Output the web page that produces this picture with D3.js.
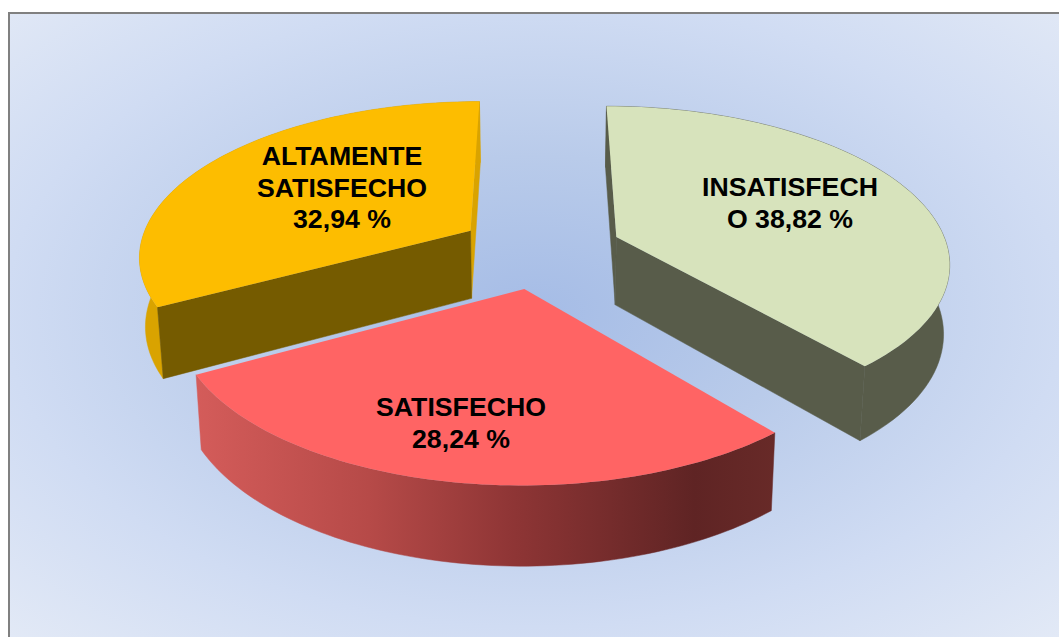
<!DOCTYPE html>
<html><head><meta charset="utf-8">
<script src="https://cdn.jsdelivr.net/npm/d3@7"></script>
<style>html,body{margin:0;padding:0;background:#fff}svg{display:block}</style></head>
<body><svg id="c" width="1059" height="637"></svg>
<script>
const categories = ["INSATISFECHO", "SATISFECHO", "ALTAMENTE SATISFECHO"];
const values = [38.82, 28.24, 32.94];
const labelLines = [["INSATISFECH", "O 38,82 %"], ["SATISFECHO", "28,24 %"], ["ALTAMENTE", "SATISFECHO", "32,94 %"]];
const topColors = ["#d7e3bc", "#ff6464", "#fdbd00"];
const sideColors = ["#585c4a", "url(#redWall)", "#d9a300"];
const cutColors = ["#585c4a", "#585c4a", "#755b00"];
const labelAnchors = [[790, 187], [461, 407], [342, 156]];
const drawOrder = [2, 0, 1];

// view model: unit pie plane seen through a perspective camera
const view = {cx: 540, cy: 250, sx: 332, sy: 154, persp: 0.15, explode: 0.248, depth: 68.5, shrink: 0.985};

const svg = d3.select("#c");
const defs = svg.append("defs");
const bg = defs.append("radialGradient").attr("id", "bg").attr("cx", .5).attr("cy", .48).attr("r", .72);
[[0, "#a5bce6"], [.35, "#b9cbea"], [.7, "#d0dcf3"], [1, "#e2e9f6"]].forEach(s => bg.append("stop").attr("offset", s[0]).attr("stop-color", s[1]));
const rw = defs.append("linearGradient").attr("id", "redWall").attr("gradientUnits", "userSpaceOnUse").attr("x1", 195).attr("x2", 776).attr("y1", 0).attr("y2", 0);
[[0, "#d45c5a"], [.3, "#b64a48"], [.55, "#8e3535"], [.86, "#5f2424"], [1, "#682a28"]].forEach(s => rw.append("stop").attr("offset", s[0]).attr("stop-color", s[1]));

svg.append("rect").attr("x", 9).attr("y", 14).attr("width", 1050).attr("height", 623).attr("fill", "url(#bg)");
svg.append("rect").attr("x", 8).attr("y", 12).attr("width", 1051).attr("height", 2).attr("fill", "#808080");
svg.append("rect").attr("x", 8).attr("y", 12).attr("width", 2).attr("height", 625).attr("fill", "#808080");

const arcs = d3.pie().sort(null).value(d => d)(values);
const line = d3.line().x(d => d[0]).y(d => d[1]);

function project(a, r, off, level) {
  const X = r * Math.sin(a) + view.explode * Math.sin(off);
  const Y = r * Math.cos(a) + view.explode * Math.cos(off);
  const w = 1 / (1 + view.persp * Y);
  const q = level ? view.shrink : 1;
  return [view.cx + view.sx * X * w * q, view.cy - view.sy * Y * w * q + (level ? view.depth * w : 0)];
}
const N = 80;
function rim(d, level) {
  const mid = (d.startAngle + d.endAngle) / 2;
  return d3.range(N + 1).map(i => project(d.startAngle + (d.endAngle - d.startAngle) * i / N, 1, mid, level));
}

drawOrder.forEach(i => {
  const d = arcs[i], mid = (d.startAngle + d.endAngle) / 2;
  const g = svg.append("g").attr("class", "slice");
  const apexT = project(0, 0, mid, 0), apexB = project(0, 0, mid, 1);
  const topRim = rim(d, 0), botRim = rim(d, 1);
  const cut = a => [apexT, project(a, 1, mid, 0), project(a, 1, mid, 1), apexB];
  const startCut = cut(d.startAngle), endCut = cut(d.endAngle);
  const wall = line(topRim.concat(botRim.slice().reverse())) + "Z";
  const face = (pathD, color) => g.append("path").attr("d", pathD).attr("fill", color).attr("stroke", color).attr("stroke-width", 0.5);
  if (i === 2) {
    face(line(endCut) + "Z", sideColors[i]);
    face(wall, sideColors[i]);
    face(line(startCut) + "Z", cutColors[i]);
  } else if (i === 0) {
    face(line(startCut) + "Z", cutColors[i]);
    face(wall, sideColors[i]);
    face(line(endCut) + "Z", cutColors[i]);
  } else {
    face(wall, sideColors[i]);
  }
  g.append("path").attr("d", line([apexT].concat(topRim)) + "Z").attr("fill", topColors[i]);
});

labelLines.forEach((lines, i) => {
  const t = svg.append("text").attr("text-anchor", "middle").attr("font-family", "'Liberation Sans',Arial,sans-serif")
    .attr("font-weight", "bold").attr("font-size", 26.7).attr("fill", "#000");
  lines.forEach((s, k) => t.append("tspan").attr("x", labelAnchors[i][0]).attr("y", labelAnchors[i][1] + k * 31.5).attr("dy", "0.35em").text(s));
});
</script></body></html>
